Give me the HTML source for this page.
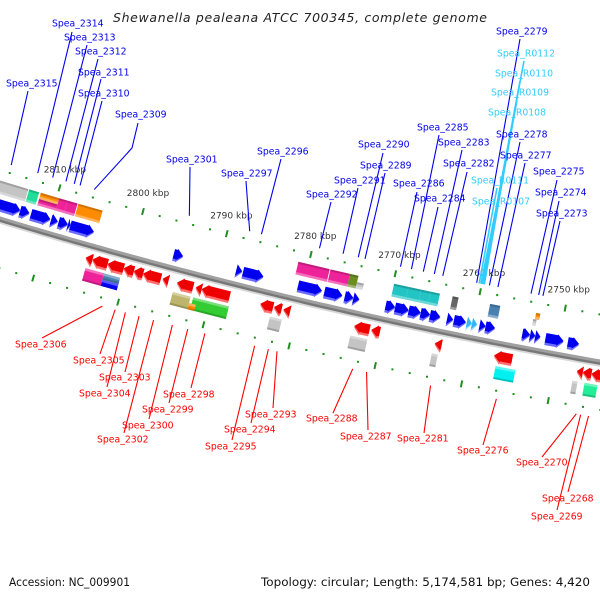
<!DOCTYPE html>
<html><head><meta charset="utf-8">
<style>
html,body{margin:0;padding:0;background:#fff;}
svg{display:block;}
text{font-family:"DejaVu Sans","Liberation Sans",sans-serif;}
</style></head>
<body>
<svg id="chart" width="600" height="600" viewBox="0 0 600 600" xmlns="http://www.w3.org/2000/svg">
<rect x="0" y="0" width="600" height="600" fill="#fff"/>
<text x="300" y="22" text-anchor="middle" font-size="12.5" font-style="italic" fill="#222" textLength="374" lengthAdjust="spacing">Shewanella pealeana ATCC 700345, complete genome</text>
<g id="backbone"></g>
<g id="ticks"></g>
<g id="lines"></g>
<g id="feats"></g>
<g id="labels"></g>
<text x="9" y="586" font-size="11.5" fill="#111" textLength="121" lengthAdjust="spacingAndGlyphs">Accession: NC_009901</text>
<text x="590" y="586" text-anchor="end" font-size="11.5" fill="#111" textLength="329" lengthAdjust="spacingAndGlyphs">Topology: circular; Length: 5,174,581 bp; Genes: 4,420</text>
</svg>
<script>
// ---- data (kbp) ----
const tickMajors = [2810, 2800, 2790, 2780, 2770, 2760, 2750];
const tickLabels = ["2810 kbp","2800 kbp","2790 kbp","2780 kbp","2770 kbp","2760 kbp","2750 kbp"];
// forward strand CDS: [tail kbp, head kbp, colour key]
const fwdGenes = [
 [2816.7,2813.6,'b'],[2813.6,2812.5,'b'],[2812.3,2810.0,'b'],[2809.9,2809.1,'b'],[2809.0,2807.9,'b'],[2807.9,2807.6,'b'],[2807.6,2804.8,'b'],
 [2795.3,2794.2,'b'],[2787.9,2787.2,'b'],[2787.1,2784.7,'b'],
 [2780.6,2777.8,'b'],[2777.5,2775.4,'b'],[2775.1,2774.1,'b'],[2774.1,2773.4,'b'],
 [2770.3,2769.2,'b'],[2769.2,2767.6,'b'],[2767.6,2766.2,'b'],[2766.2,2765.1,'b'],[2765.1,2763.9,'b'],
 [2763.1,2762.4,'b'],[2762.3,2760.9,'b'],[2760.8,2760.2,'lb'],[2760.2,2759.6,'lb'],
 [2759.3,2758.6,'b'],[2758.6,2757.5,'b'],
 [2754.3,2753.4,'b'],[2753.4,2752.8,'b'],[2752.8,2752.2,'b'],[2751.6,2749.5,'b'],[2749.0,2747.7,'b']
];
// reverse strand CDS: [tail kbp, head kbp]
const revGenes = [
 [2804.1,2804.9],[2802.3,2804.1],[2800.4,2802.3],[2799.2,2800.4],[2798.1,2799.2],[2796.0,2798.1],[2795.1,2795.8],
 [2792.2,2794.1],[2791.2,2791.9],[2787.9,2791.2],[2782.8,2784.3],[2781.8,2782.7],[2780.8,2781.6],
 [2771.5,2773.3],[2770.3,2771.3],[2763.1,2763.9],[2754.9,2757.0],
 [2746.7,2747.4],[2745.7,2746.7],[2744.5,2745.7]
];
// COG boxes: [start, end, colour, part(0 full,1 outer,2 inner)]
const fwdCog = [
 [2817.5,2813.4,'#c4c4c4',0],[2813.3,2812.1,'#22dd99',0],[2811.9,2809.7,'#ff8c00',1],[2811.9,2809.7,'#ee2299',2],
 [2809.7,2808.7,'#ee2299',0],[2808.7,2807.5,'#ee2299',0],[2807.4,2804.5,'#ff8c00',0],
 [2781.2,2777.5,'#ee2299',0],[2777.4,2775.1,'#ee2299',0],[2775.1,2774.1,'#6b8e23',0],[2774.1,2773.3,'#c8c8c8',2],
 [2769.9,2768.2,'#22c4c4',0],[2768.2,2766.7,'#22c4c4',0],[2766.7,2765.6,'#22c4c4',0],[2765.6,2764.5,'#22c4c4',0],
 [2763.0,2762.3,'#666666',0],[2758.6,2757.4,'#4a80b0',0],[2753.2,2752.7,'#ff8c00',1],[2753.4,2753.0,'#c8c8c8',2]
];
const revCog = [
 [2802.4,2804.6,'#ee2299',0],[2800.5,2802.4,'#4a80b0',2],[2800.5,2802.4,'#0000ff',1],
 [2792.2,2794.3,'#bdb56b',0],[2787.7,2791.9,'#33cc33',0],[2791.4,2792.2,'#ff8c00',1],
 [2781.5,2782.9,'#c4c4c4',0],[2771.5,2773.5,'#c4c4c4',0],[2763.3,2764.0,'#c4c4c4',0],
 [2754.3,2756.6,'#00f0f0',0],[2747.1,2747.7,'#c4c4c4',0],[2744.8,2746.3,'#22ee99',0]
];
// labels: [name, text x, text y, line start x, line start y, target kbp, colour]
const topLabels = [
 ["Spea_2315",6,83,28,91,2816.1,'b'],["Spea_2314",52,23,72,32,2812.9,'b'],["Spea_2313",64,37,87,45,2811.1,'b'],
 ["Spea_2312",75,51,98,59,2809.5,'b'],["Spea_2311",78,72,101,79,2808.5,'b'],["Spea_2310",78,93,102,101,2807.8,'b'],
 ["Spea_2309",115,114,138,123,2806.1,'b'],["Spea_2301",166,159,190,167,2794.7,'b'],["Spea_2297",221,173,246,181,2787.5,'b'],
 ["Spea_2296",257,151,281,159,2786.1,'b'],["Spea_2292",306,194,331,202,2779.2,'b'],["Spea_2291",334,180,358,188,2776.4,'b'],
 ["Spea_2290",358,144,383,153,2774.6,'b'],["Spea_2289",360,165,385,173,2773.8,'b'],["Spea_2286",393,183,417,192,2769.6,'b'],
 ["Spea_2285",417,127,439,135,2768.3,'b'],["Spea_2284",414,198,438,207,2766.9,'b'],["Spea_2283",438,142,462,150,2765.6,'b'],
 ["Spea_2282",443,163,467,172,2764.6,'b'],["Spea_2279",496,31,520,39,2760.6,'b'],
 ["Spea_R0112",497,53,524,61,2760.0,'lb'],["Spea_R0110",495,73,520,81,2759.9,'lb'],["Spea_R0109",491,92,517,100,2759.8,'lb'],
 ["Spea_R0108",488,112,513,120,2759.7,'lb'],["Spea_R0111",471,180,497,188,2760.3,'lb'],["Spea_R0107",472,201,496,209,2760.1,'lb'],
 ["Spea_2278",496,134,520,142,2759.1,'b'],["Spea_2277",500,155,525,163,2758.1,'b'],["Spea_2275",533,171,557,180,2754.2,'b'],
 ["Spea_2274",535,192,559,201,2753.3,'b'],["Spea_2273",536,213,560,221,2752.8,'b']
];
const botLabels = [
 ["Spea_2306",15,344,42,338,2801.6],["Spea_2305",73,360,100,354,2800.1],["Spea_2303",99,377,125,372,2797.3],
 ["Spea_2304",79,393,107,387,2798.9],["Spea_2302",97,439,124,433,2795.6],["Spea_2300",122,425,149,419,2793.4],
 ["Spea_2299",142,409,169,403,2791.6],["Spea_2298",163,394,191,388,2789.6],["Spea_2293",245,414,273,408,2781.2],
 ["Spea_2294",224,429,251,423,2782.2],["Spea_2295",205,446,232,440,2783.8],["Spea_2288",306,418,333,413,2772.4],
 ["Spea_2287",340,436,368,430,2770.8],["Spea_2281",397,438,424,433,2763.4],["Spea_2276",457,450,483,445,2755.8],
 ["Spea_2270",516,462,542,457,2746.6],["Spea_2269",531,516,557,510,2746.1],["Spea_2268",542,498,568,492,2745.2]
];

// ---- geometry ----
const NS = "http://www.w3.org/2000/svg";
const CX = 1492, CY = -4711, R0 = 5151;
function ang(k){ return (103.38 + (k - 2780) * 0.0973) * Math.PI / 180; }
function P(k, d){ const a = ang(k), r = R0 - d; return [CX + r * Math.cos(a), CY + r * Math.sin(a)]; }
function pts(list){ return list.map(p => p[0].toFixed(2) + "," + p[1].toFixed(2)).join(" "); }
function mk(tag, attrs, parent){ const e = document.createElementNS(NS, tag); for (const a in attrs) e.setAttribute(a, attrs[a]); parent.appendChild(e); return e; }

const gB = document.getElementById('backbone'), gT = document.getElementById('ticks'),
      gL = document.getElementById('lines'), gF = document.getElementById('feats'), gX = document.getElementById('labels');

// backbone
function arcPath(d){ const a = []; for (let k = 2825; k >= 2738; k -= 0.5) a.push(P(k, d)); return "M" + a.map(p => p[0].toFixed(2) + "," + p[1].toFixed(2)).join(" L"); }
let bb;
bb = mk('path', {d: arcPath(-3.5), stroke: '#d8d8d8', 'stroke-width': 2, fill: 'none'}, gB);
 
bb = mk('path', {d: arcPath(-1.2), stroke: '#777', 'stroke-width': 3, fill: 'none'}, gB);
 
bb = mk('path', {d: arcPath(1.2), stroke: '#a0a0a0', 'stroke-width': 3, fill: 'none'}, gB);
 

// ticks
for (const side of [47, -47]) {
  for (let k = 2740; k <= 2822; k += 2) {
    if (k % 10 === 0) {
      const a = P(k, side - 3.5), b = P(k, side + 3.5);
      const t = mk('line', {x1: a[0], y1: a[1], x2: b[0], y2: b[1], stroke: '#1f8f1f', 'stroke-width': 2}, gT);
       
    } else {
      const p = P(k, side);
      const t = mk('rect', {x: p[0] - 1, y: p[1] - 1, width: 2, height: 2, fill: '#1f8f1f'}, gT);
       
    }
  }
}
tickMajors.forEach((k, i) => {
  const p = P(k, 66);
  const t = mk('text', {x: p[0], y: p[1] + 3, 'text-anchor': 'middle', 'font-size': 9, fill: '#333'}, gT);
  t.textContent = tickLabels[i];
   
});

// arrows
function arrowPts(kT, kH, dLo, dHi){
  const len = Math.abs(kT - kH), s = Math.sign(kT - kH), hl = Math.min(0.75, len), kN = kH + s * hl, dm = (dLo + dHi) / 2;
  if (len <= 0.8) return [P(kT, dLo), P(kH, dm), P(kT, dHi)];
  return [P(kT, dLo + 1), P(kN, dLo + 1), P(kN, dLo), P(kH, dm), P(kN, dHi), P(kN, dHi - 1), P(kT, dHi - 1)];
}
const fwdCol = {b: ['#0000ee', '#6b6bff'], lb: ['#33b5f5', '#99ddff']};
fwdGenes.forEach(g => {
  const c = fwdCol[g[2]];
  const a = mk('polygon', {points: pts(arrowPts(g[0], g[1], 6, 20)), fill: c[1]}, gF);
   
  const b = mk('polygon', {points: pts(arrowPts(g[0], g[1], 8.5, 20)), fill: c[0]}, gF);
   
});
revGenes.forEach(g => {
  const a = mk('polygon', {points: pts(arrowPts(g[0], g[1], -21, -7)), fill: '#ff7070'}, gF);
   
  const b = mk('polygon', {points: pts(arrowPts(g[0], g[1], -18.5, -7)), fill: '#ee0000'}, gF);
   
});

// COG boxes
function box(k1, k2, col, part, dIn, dOut){
  let a = dIn, b = dOut; const mid = (dIn + dOut) / 2;
  if (part === 1) a = mid; if (part === 2) b = mid;
  const s = Math.sign(dOut) || 1;
  const r = mk('polygon', {points: pts([P(k1, a), P(k2, a), P(k2, b), P(k1, b)]), fill: col}, gF);
   
  const sh = mk('polygon', {points: pts([P(k1, a), P(k2, a), P(k2, a + s * 2.5), P(k1, a + s * 2.5)]), fill: '#fff', 'fill-opacity': 0.35}, gF);
   
  const dk = mk('polygon', {points: pts([P(k1, b), P(k2, b), P(k2, b - s * 2), P(k1, b - s * 2)]), fill: '#000', 'fill-opacity': 0.18}, gF);
   
}
fwdCog.forEach(c => box(c[0], c[1], c[2], c[3], 24, 37));
revCog.forEach(c => box(c[0], c[1], c[2], c[3], -23, -36));

// labels
const labCol = {b: '#0000ee', lb: '#33ccff'};
topLabels.forEach(l => {
  const e = P(l[5], 55), col = labCol[l[6]];
  let d = "M" + l[3] + "," + l[4];
  if (l[0] === "Spea_2309") d += " L132,148";
  d += " L" + e[0].toFixed(2) + "," + e[1].toFixed(2);
  const ln = mk('path', {d: d, stroke: col, 'stroke-width': l[6] === 'lb' ? 1.6 : 1.1, fill: 'none'}, gL);
   
  const t = mk('text', {x: l[1], y: l[2] + 3.5, 'font-size': 9.3, fill: col}, gX);
  t.textContent = l[0];
   
});
botLabels.forEach(l => {
  const e = P(l[5], -55);
  const ln = mk('line', {x1: l[3], y1: l[4], x2: e[0], y2: e[1], stroke: '#ff0000', 'stroke-width': 1.1}, gL);
   
  const t = mk('text', {x: l[1], y: l[2] + 3.5, 'font-size': 9.3, fill: '#ff0000'}, gX);
  t.textContent = l[0];
   
});
</script>
</body></html>
